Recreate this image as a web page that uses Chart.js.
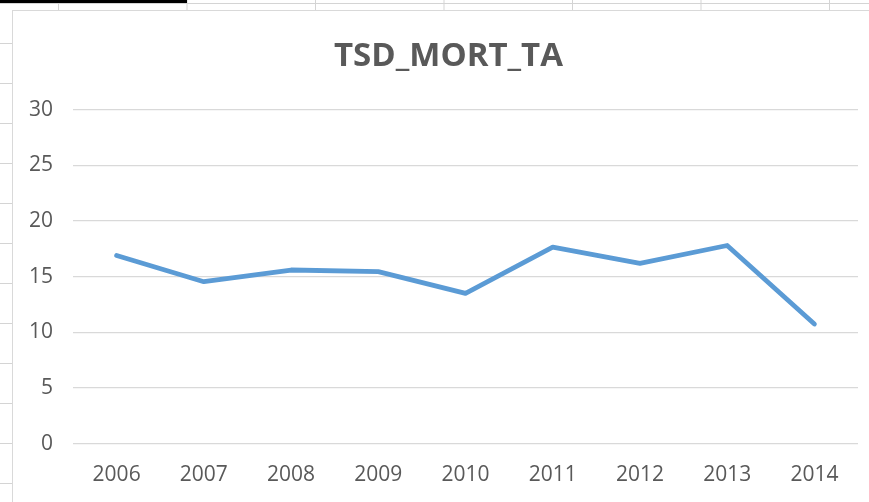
<!DOCTYPE html>
<html>
<head>
<meta charset="utf-8">
<script src="https://cdn.jsdelivr.net/npm/chart.js@4"></script>
<style>
  html, body { margin: 0; padding: 0; }
  body {
    width: 869px; height: 502px; overflow: hidden; position: relative;
    background-color: #fff;
    /* la grille du tableur derriere le graphique */
    background-image:
      linear-gradient(to right, #d4d4d4 1px, transparent 1px),
      linear-gradient(to bottom, #d4d4d4 1px, transparent 1px);
    background-size: 128.5px 100%, 100% 40px;
    background-position: 58px 0, 0 3px;
  }
  #selection { position: absolute; left: 0; top: 0; width: 187px; height: 3px; background: #000; }
  #cadre {
    position: absolute; left: 12px; top: 10px; width: 870px; height: 500px;
    background: #fff; border: 1px solid #d9d9d9; box-sizing: border-box;
  }
  #zone { position: relative; width: 857px; height: 492px; }
</style>
</head>
<body>
<div id="selection"></div>
<div id="cadre"><div id="zone"><canvas id="graphique"></canvas></div></div>
<script>
// donnees
const annees = ['2006', '2007', '2008', '2009', '2010', '2011', '2012', '2013', '2014'];
const valeurs = [16.9, 14.55, 15.6, 15.45, 13.5, 17.65, 16.2, 17.8, 10.75];
const titre = 'TSD_MORT_TA';

const gris = '#595959';

// decale le titre vers la droite (Excel le centre sur tout le cadre)
const decalageTitre = {
  id: 'decalageTitre',
  afterLayout(chart) {
    const t = chart.titleBlock;
    if (t) {
      t.left += 15;
      t.right += 15;
    }
  },
};

const config = {
  type: 'line',
  data: {
    labels: annees,
    datasets: [
      {
        label: titre,
        data: valeurs,
        borderColor: '#5B9BD5',
        borderWidth: 4.8,
        pointRadius: 0,
        tension: 0,
        borderCapStyle: 'round',
        borderJoinStyle: 'round',
      },
    ],
  },
  options: {
    responsive: true,
    maintainAspectRatio: false,
    animation: false,
    layout: { padding: { left: -4, right: 12, top: 26, bottom: -4 } },
    plugins: {
      legend: { display: false },
      tooltip: { enabled: false },
      title: {
        display: true,
        text: titre,
        color: gris,
        font: { family: 'Open Sans', size: 33, weight: 'bold' },
        padding: { top: 0, bottom: 33 },
      },
    },
    scales: {
      x: {
        offset: true,
        grid: { display: false, drawTicks: false },
        border: { display: false },
        ticks: { color: gris, font: { family: 'Open Sans', size: 21 }, padding: 19, maxRotation: 0 },
      },
      y: {
        min: 0,
        max: 30,
        grid: { color: '#d9d9d9', lineWidth: 1.3, drawTicks: false },
        border: { display: false },
        ticks: { stepSize: 5, color: gris, font: { family: 'Open Sans', size: 21 }, padding: 20 },
      },
    },
  },
  plugins: [decalageTitre],
};

new Chart(document.getElementById('graphique'), config);
</script>
</body>
</html>
